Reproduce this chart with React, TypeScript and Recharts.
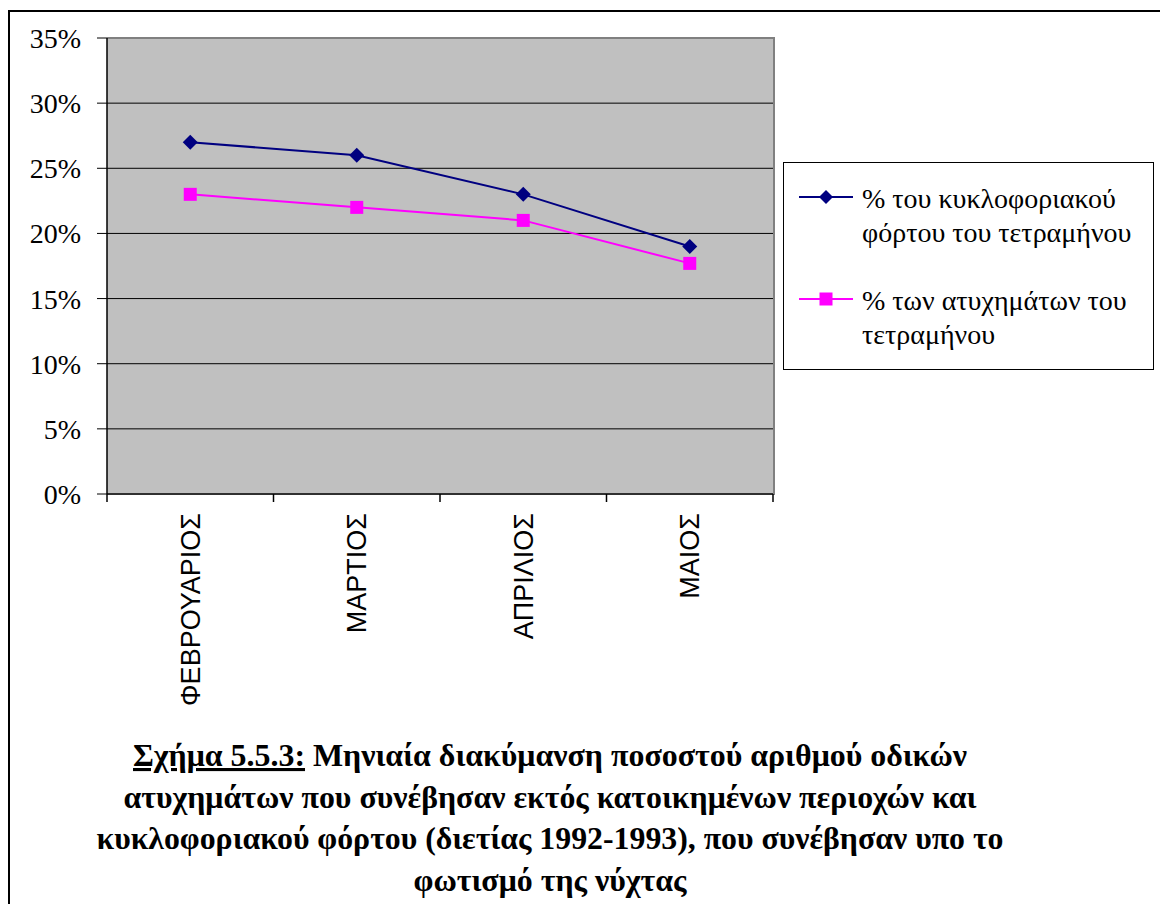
import { LineChart, Line, XAxis, YAxis, CartesianGrid, Legend } from "recharts"

const months = ["ΦΕΒΡΟΥΑΡΙΟΣ", "ΜΑΡΤΙΟΣ", "ΑΠΡΙΛΙΟΣ", "ΜΑΙΟΣ"]
const trafficShare = [27, 26, 23, 19]
const accidentShare = [23, 22, 21, 17.7]
const yTicks = [0, 5, 10, 15, 20, 25, 30, 35]
const seriesNames = ["% του κυκλοφοριακού\nφόρτου του τετραμήνου", "% των ατυχημάτων του\nτετραμήνου"]

const titleLead = "Σχήμα 5.5.3:"
const titleLines = [
  " Μηνιαία διακύμανση ποσοστού αριθμού οδικών",
  "ατυχημάτων που συνέβησαν εκτός κατοικημένων περιοχών και",
  "κυκλοφοριακού φόρτου (διετίας 1992-1993), που συνέβησαν υπο το",
  "φωτισμό της νύχτας",
]

const NAVY = "#000080"
const MAGENTA = "#ff00ff"
const SERIF = "'Liberation Serif', 'Times New Roman', serif"
const SANS = "'Liberation Sans', Arial, sans-serif"

const data = months.map((month, i) => ({
  month,
  traffic: trafficShare[i],
  accidents: accidentShare[i],
}))

function diamond(cx: number, cy: number, r: number, fill: string, key?: string) {
  return <path key={key} d={`M${cx},${cy - r}L${cx + r},${cy}L${cx},${cy + r}L${cx - r},${cy}Z`} fill={fill} />
}

function square(cx: number, cy: number, r: number, fill: string, key?: string) {
  return <rect key={key} x={cx - r} y={cy - r} width={r * 2} height={r * 2} fill={fill} />
}

// category label plus the tick marks sitting on the band edges (excel style)
function MonthTick({ x, y, payload, width, visibleTicksCount, index }: any) {
  const half = width / visibleTicksCount / 2
  const ty = y + 19
  const last = index === visibleTicksCount - 1
  return (
    <g>
      <line x1={x - half} y1={y} x2={x - half} y2={y + 8} stroke="#000" strokeWidth={1.5} />
      {last && <line x1={x + half} y1={y} x2={x + half} y2={y + 8} stroke="#000" strokeWidth={1.5} />}
      <text
        x={x}
        y={ty}
        transform={`rotate(-90, ${x}, ${ty})`}
        textAnchor="end"
        dy="0.36em"
        fontSize={27}
        fontFamily={SANS}
        fill="#000"
      >
        {payload.value}
      </text>
    </g>
  )
}

function LegendBox({ payload }: any) {
  return (
    <div
      style={{
        boxSizing: "border-box",
        width: 371,
        height: 208,
        border: "1.5px solid #000",
        background: "#fff",
        paddingTop: 19,
        fontFamily: SERIF,
        fontSize: 28,
        lineHeight: "34px",
        color: "#000",
      }}
    >
      {(payload || []).map((entry: any, i: number) => (
        <div key={i} style={{ display: "flex", alignItems: "flex-start", marginTop: i === 0 ? 0 : 34 }}>
          <svg width={54} height={34} style={{ marginLeft: 15, flexShrink: 0 }}>
            <line x1={0} y1={15} x2={54} y2={15} stroke={entry.color} strokeWidth={2} />
            {i === 0 ? diamond(27, 15, 7, entry.color) : square(27, 15, 6.5, entry.color)}
          </svg>
          <div style={{ marginLeft: 9, whiteSpace: "pre-line" }}>{entry.value}</div>
        </div>
      ))}
    </div>
  )
}

export default function App() {
  const titleLengths = [834, 853, 907, 273]
  const baselines = [46, 88, 129, 171]
  return (
    <div style={{ position: "absolute", left: 0, top: 0, width: 1160, height: 904, overflow: "hidden", background: "#fff" }}>
      <div
        style={{
          position: "absolute",
          left: 8,
          top: 10,
          width: 1200,
          height: 1000,
          border: "2px solid #000",
          boxSizing: "border-box",
        }}
      />
      <div
        style={{
          position: "absolute",
          left: 107,
          top: 37,
          width: 668,
          height: 458,
          background: "#c0c0c0",
          borderTop: "2px solid #808080",
          borderRight: "2px solid #808080",
          boxSizing: "border-box",
        }}
      />
      <div style={{ position: "absolute", left: 0, top: 0 }}>
        <LineChart width={1160} height={740} data={data} margin={{ top: 38, right: 387, bottom: 0, left: 0 }}>
          <CartesianGrid vertical={false} stroke="#000" horizontalValues={[5, 10, 15, 20, 25, 30]} />
          <XAxis
            dataKey="month"
            scale="band"
            height={246}
            interval={0}
            tickLine={false}
            tickSize={0}
            tickMargin={0}
            axisLine={{ stroke: "#000", strokeWidth: 1.5 }}
            tick={<MonthTick />}
          />
          <YAxis
            width={107}
            domain={[0, 35]}
            ticks={yTicks}
            interval={0}
            tickSize={10}
            tickMargin={16}
            tickFormatter={(v: number) => `${v}%`}
            axisLine={{ stroke: "#000", strokeWidth: 1.5 }}
            tickLine={{ stroke: "#000" }}
            tick={{ fill: "#000", fontSize: 28, fontFamily: SERIF }}
          />
          <Legend
            layout="horizontal"
            verticalAlign="middle"
            align="center"
            content={<LegendBox />}
            wrapperStyle={{ left: 783, top: 162, width: 371, height: 208 }}
          />
          <Line
            dataKey="traffic"
            name={seriesNames[0]}
            stroke={NAVY}
            strokeWidth={2}
            dot={(p: any) => diamond(p.cx, p.cy, 7.5, NAVY, `d${p.index}`)}
            isAnimationActive={false}
          />
          <Line
            dataKey="accidents"
            name={seriesNames[1]}
            stroke={MAGENTA}
            strokeWidth={2}
            dot={(p: any) => square(p.cx, p.cy, 6.5, MAGENTA, `s${p.index}`)}
            isAnimationActive={false}
          />
        </LineChart>
      </div>
      <svg width={1160} height={184} style={{ position: "absolute", left: 0, top: 720 }}>
        {titleLines.map((line, i) => (
          <text
            key={i}
            x={550}
            y={baselines[i]}
            textAnchor="middle"
            fontFamily={SERIF}
            fontWeight="bold"
            fontSize={31}
            textLength={titleLengths[i]}
            lengthAdjust="spacingAndGlyphs"
            fill="#000"
          >
            {i === 0 ? <tspan textDecoration="underline">{titleLead}</tspan> : null}
            {line}
          </text>
        ))}
      </svg>
    </div>
  )
}
